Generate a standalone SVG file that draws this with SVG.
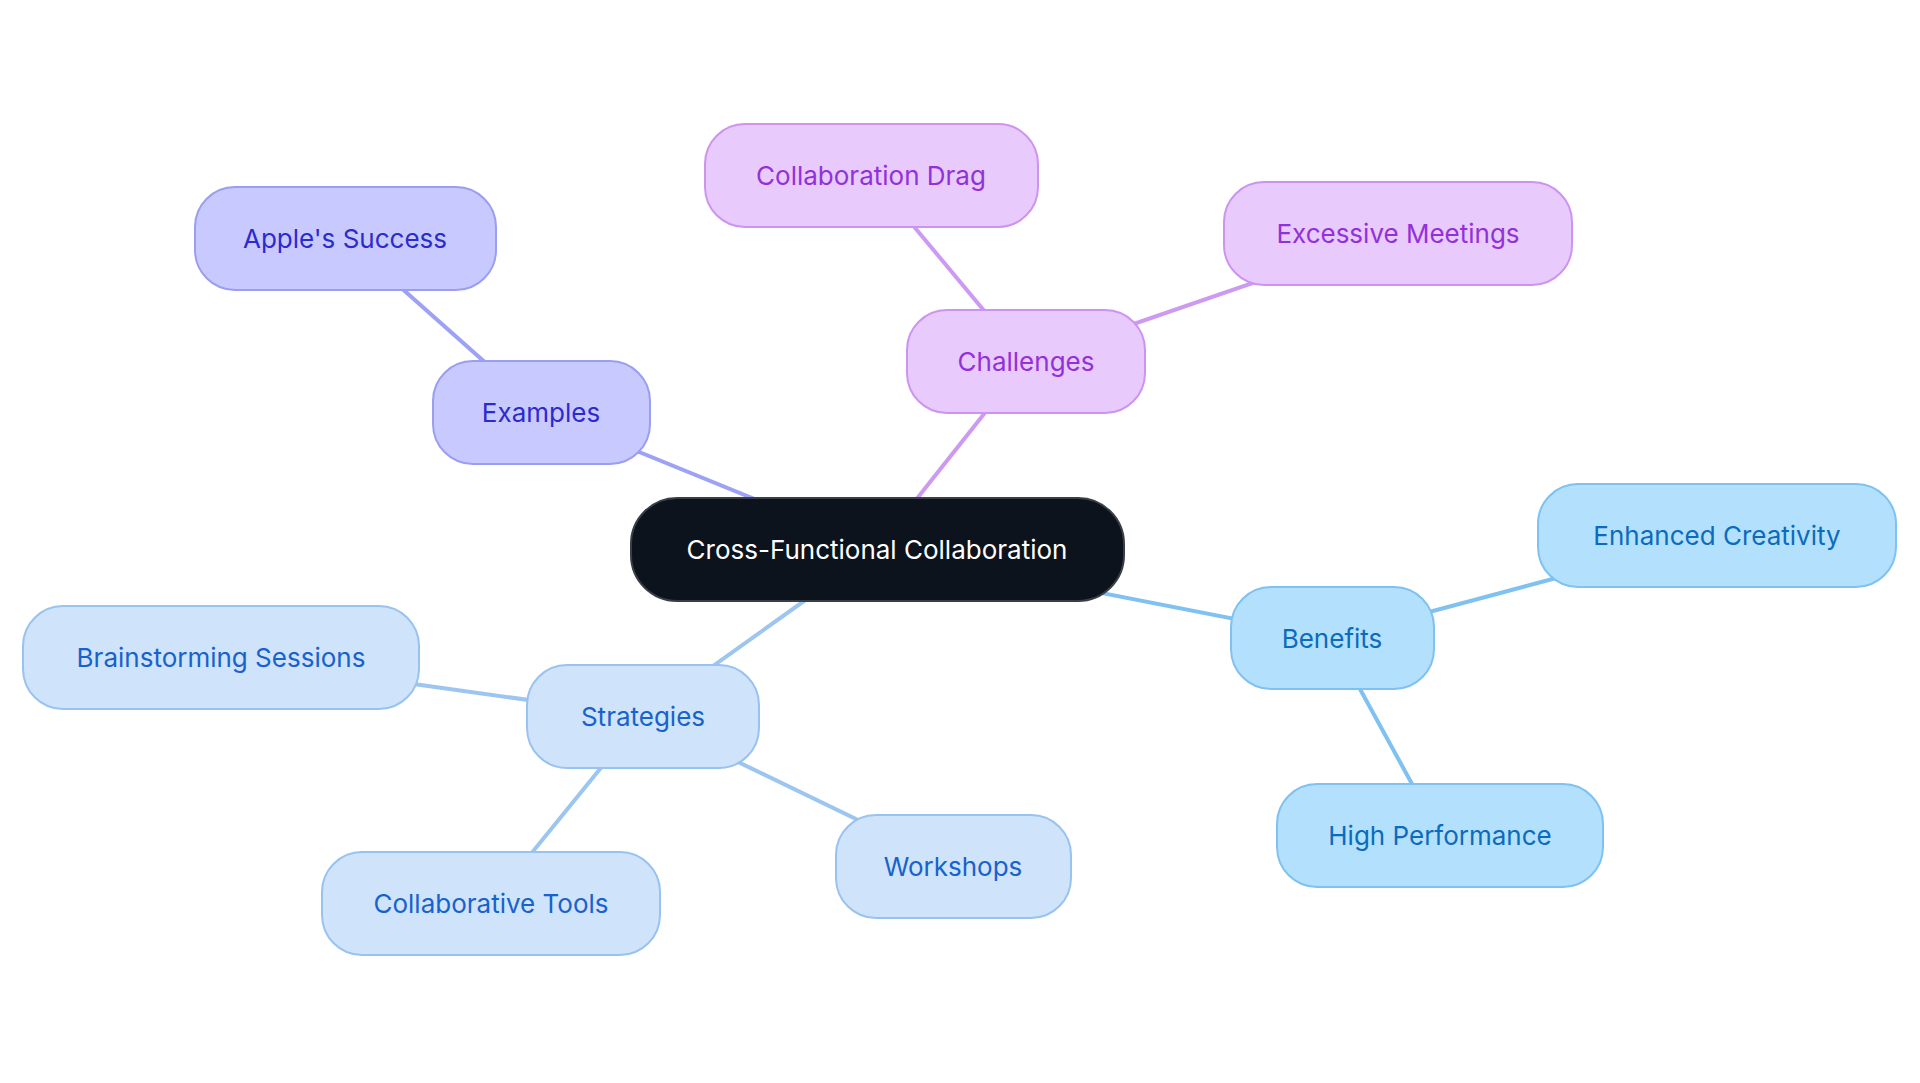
<svg xmlns="http://www.w3.org/2000/svg" width="1920" height="1083" viewBox="0 0 1920 1083">
<style>
text{font-family:Inter,"Noto Sans",sans-serif;font-size:26px;text-anchor:middle;dominant-baseline:central}
.e{fill:#c8caff;stroke:#9a9ef0;stroke-width:2}.et{fill:#2b2bcf}
.c{fill:#e8cafd;stroke:#cc94f0;stroke-width:2}.ct{fill:#9231d9}
.b{fill:#b3e0fd;stroke:#7fc1f0;stroke-width:2}.bt{fill:#0b6bbd}
.s{fill:#cfe3fb;stroke:#99c3ef;stroke-width:2}.st{fill:#1762cc}
line{stroke-width:4}
</style>
<rect width="1920" height="1083" fill="#fff"/>
<g id="connectors">
<line x1="877" y1="549" x2="541" y2="412" stroke="#9ea2f4"/>
<line x1="541" y1="412" x2="345" y2="238" stroke="#9ea2f4" stroke-width="3"/>
<line x1="877" y1="549" x2="1026" y2="361" stroke="#cd9af2"/>
<line x1="1026" y1="361" x2="871" y2="175" stroke="#cd9af2" stroke-width="3"/>
<line x1="1026" y1="361" x2="1398" y2="233" stroke="#cd9af2" stroke-width="3"/>
<line x1="877" y1="549" x2="1332" y2="638" stroke="#7fc1f0"/>
<line x1="1332" y1="638" x2="1717" y2="535" stroke="#7fc1f0" stroke-width="3"/>
<line x1="1332" y1="638" x2="1440" y2="835" stroke="#7fc1f0" stroke-width="3"/>
<line x1="877" y1="549" x2="643" y2="716" stroke="#9cc5f0"/>
<line x1="643" y1="716" x2="221" y2="657" stroke="#9cc5f0" stroke-width="3"/>
<line x1="643" y1="716" x2="491" y2="903" stroke="#9cc5f0" stroke-width="3"/>
<line x1="643" y1="716" x2="953" y2="866" stroke="#9cc5f0" stroke-width="3"/>
</g>
<g id="center"><rect x="631" y="498" width="493" height="103" rx="46" fill="#0d131c" stroke="#3a3f46" stroke-width="2"/><text x="877" y="549" fill="#fff">Cross-Functional Collaboration</text></g>
<g id="examples"><rect class="e" x="433" y="361" width="217" height="103" rx="40"/><text class="et" x="541" y="412">Examples</text></g>
<g id="apples-success"><rect class="e" x="195" y="187" width="301" height="103" rx="40"/><text class="et" x="345" y="238">Apple's Success</text></g>
<g id="challenges"><rect class="c" x="907" y="310" width="238" height="103" rx="40"/><text class="ct" x="1026" y="361">Challenges</text></g>
<g id="collaboration-drag"><rect class="c" x="705" y="124" width="333" height="103" rx="40"/><text class="ct" x="871" y="175">Collaboration Drag</text></g>
<g id="excessive-meetings"><rect class="c" x="1224" y="182" width="348" height="103" rx="40"/><text class="ct" x="1398" y="233">Excessive Meetings</text></g>
<g id="benefits"><rect class="b" x="1231" y="587" width="203" height="102" rx="40"/><text class="bt" x="1332" y="638">Benefits</text></g>
<g id="enhanced-creativity"><rect class="b" x="1538" y="484" width="358" height="103" rx="40"/><text class="bt" x="1717" y="535">Enhanced Creativity</text></g>
<g id="high-performance"><rect class="b" x="1277" y="784" width="326" height="103" rx="40"/><text class="bt" x="1440" y="835">High Performance</text></g>
<g id="strategies"><rect class="s" x="527" y="665" width="232" height="103" rx="40"/><text class="st" x="643" y="716">Strategies</text></g>
<g id="brainstorming"><rect class="s" x="23" y="606" width="396" height="103" rx="40"/><text class="st" x="221" y="657">Brainstorming Sessions</text></g>
<g id="collaborative-tools"><rect class="s" x="322" y="852" width="338" height="103" rx="40"/><text class="st" x="491" y="903">Collaborative Tools</text></g>
<g id="workshops"><rect class="s" x="836" y="815" width="235" height="103" rx="40"/><text class="st" x="953" y="866">Workshops</text></g>
</svg>
